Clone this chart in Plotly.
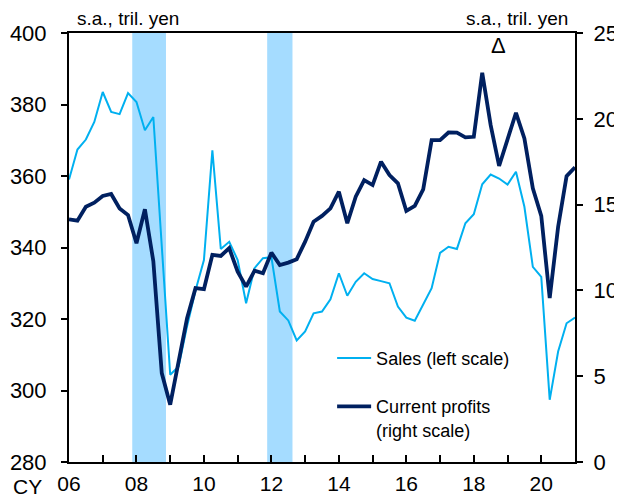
import plotly.graph_objects as go

# quarterly, 2006Q1 .. 2021Q1
quarters = [f"{y}Q{q}" for y in range(2006, 2022) for q in range(1, 5)][:61]

sales = [359.0, 367.4, 370.2, 375.1, 383.5, 377.9, 377.3, 383.2, 380.7, 372.8,
         376.5, 340.5, 304.4, 306.7, 318.0, 328.0, 336.5, 367.2, 339.6, 341.6,
         336.5, 324.4, 334.2, 337.0, 337.3, 322.1, 319.6, 314.0, 316.5, 321.6,
         322.1, 325.5, 332.8, 326.5, 330.4, 332.8, 331.2, 330.6, 330.0, 323.5,
         320.4, 319.5, 323.9, 328.6, 338.5, 340.2, 339.6, 346.8, 349.3, 357.7,
         360.4, 359.3, 357.6, 361.2, 351.4, 334.6, 331.8, 297.4, 310.9, 318.8,
         320.4]

profits = [14.14, 14.06, 14.88, 15.11, 15.50, 15.62, 14.78, 14.39, 12.75, 14.73,
           11.70, 5.18, 3.34, 5.76, 8.38, 10.13, 10.07, 12.07, 12.01, 12.46,
           11.09, 10.22, 11.15, 11.00, 12.20, 11.48, 11.62, 11.82, 12.84, 14.00,
           14.34, 14.78, 15.75, 13.91, 15.46, 16.43, 16.14, 17.50, 16.72, 16.24,
           14.63, 14.92, 15.89, 18.76, 18.76, 19.20, 19.19, 18.92, 18.95, 22.68,
           19.63, 17.25, 18.76, 20.35, 18.86, 15.95, 14.34, 9.55, 13.71, 16.66,
           17.17]

# recession periods (shaded), first and last quarter
recessions = [("2008Q1", "2008Q4"), ("2012Q1", "2012Q3")]

year_ticks = list(range(2006, 2021))
year_labels = [f"{y % 100:02d}" if y % 2 == 0 else "" for y in year_ticks]


def qpos(label):
    y, q = label.split("Q")
    return int(y) + (int(q) - 1) / 4


x = [qpos(q) for q in quarters]

fig = go.Figure()

fig.add_trace(go.Scatter(
    x=x, y=sales, mode="lines", name="Sales (left scale)",
    line=dict(color="#00B0F0", width=2), legendgroup="a",
))
fig.add_trace(go.Scatter(
    x=x, y=profits, mode="lines", name="Current profits<br>(right scale)",
    line=dict(color="#002060", width=3.8), yaxis="y2", legendgroup="b",
))

for a, b in recessions:
    fig.add_shape(type="rect", xref="x", yref="paper",
                  x0=qpos(a) - 0.125, x1=qpos(b) + 0.125, y0=0, y1=1,
                  fillcolor="#A5DCFF", line_width=0, layer="below")

font = "Liberation Sans, Arial, sans-serif"

# the page body adds an 8px offset, so the figure is 8px smaller
fig.update_layout(
    width=614, height=491,
    margin=dict(l=61, r=47, t=25, b=37),
    plot_bgcolor="white", paper_bgcolor="white",
    font=dict(family=font, color="black", size=22),
    showlegend=True,
    legend=dict(x=0.52, y=0.285, xanchor="left", yanchor="top",
                font=dict(size=18), bgcolor="rgba(0,0,0,0)", itemwidth=34,
                traceorder="grouped", tracegroupgap=22, valign="top"),
    xaxis=dict(range=[2006, 2021], tickvals=year_ticks, ticktext=year_labels,
               ticks="inside", ticklen=7, tickwidth=2, tickcolor="black",
               showline=True, linecolor="black", linewidth=2, mirror=True,
               showgrid=False, zeroline=False, ticklabelstandoff=2,
               tickfont=dict(size=21), automargin=False),
    yaxis=dict(range=[280, 400], dtick=20, ticks="outside", ticklen=6,
               tickwidth=2, tickcolor="black", showline=True,
               linecolor="black", linewidth=2, showgrid=False,
               zeroline=False, ticklabelstandoff=10, automargin=False),
    yaxis2=dict(range=[0, 25], dtick=5, overlaying="y", side="right",
                ticks="outside", ticklen=6, tickwidth=2, tickcolor="black",
                showline=True, linecolor="black", linewidth=2,
                showgrid=False, zeroline=False, ticklabelstandoff=6,
                automargin=False),
)

fig.add_annotation(text="s.a., tril. yen", xref="paper", yref="paper",
                   x=0.012, y=1.0, xanchor="left", yanchor="bottom",
                   yshift=2, showarrow=False, font=dict(size=19))
fig.add_annotation(text="s.a., tril. yen", xref="paper", yref="paper",
                   x=0.99, y=1.0, xanchor="right", yanchor="bottom",
                   yshift=2, showarrow=False, font=dict(size=19))
fig.add_annotation(text="Δ", xref="x", yref="paper", x=2018.73, y=0.97,
                   xanchor="center", yanchor="middle", showarrow=False,
                   font=dict(size=22))
fig.add_annotation(text="CY", xref="paper", yref="paper", x=-0.082,
                   y=-0.058, xanchor="center", yanchor="middle",
                   showarrow=False, font=dict(size=21))

fig.write_html("out.html")
